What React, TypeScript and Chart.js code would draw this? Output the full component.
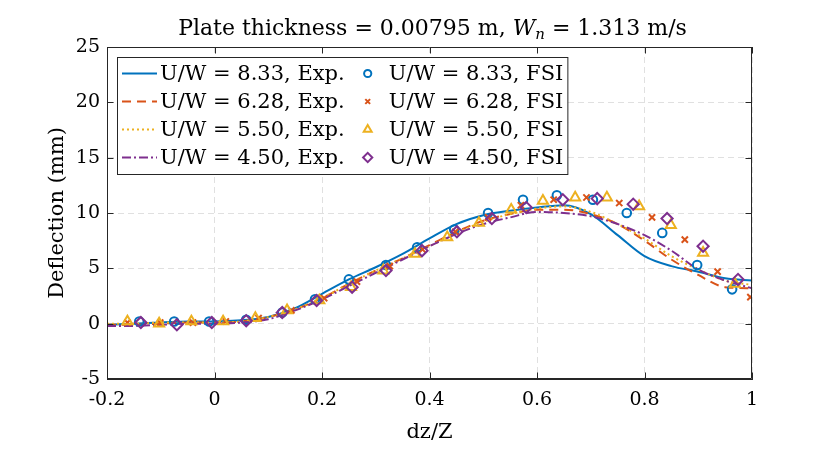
import { useEffect, useRef } from "react"
import { Chart, registerables } from "chart.js"
import { drawPoint } from "chart.js/helpers"

Chart.register(...registerables)

// measured curves (Exp.), sampled every 0.05 of dz/Z
const expX = [-0.2, -0.15, -0.1, -0.05, 0, 0.05, 0.1, 0.15, 0.2, 0.25, 0.3, 0.35, 0.4, 0.45, 0.5, 0.55, 0.6, 0.65, 0.7, 0.75, 0.8, 0.85, 0.9, 0.95, 1]
const exp833 = [-0.1, 0.0, 0.1, 0.2, 0.2, 0.3, 0.6, 1.4, 2.7, 4.0, 5.1, 6.3, 7.7, 9.0, 9.8, 10.2, 10.5, 10.7, 9.9, 8.0, 6.1, 5.2, 4.7, 4.1, 3.9]
const exp628 = [-0.1, -0.1, 0.0, 0.1, 0.1, 0.2, 0.6, 1.3, 2.3, 3.6, 4.8, 5.9, 7.1, 8.3, 9.3, 9.9, 10.3, 10.3, 9.9, 9.0, 7.5, 5.8, 4.4, 3.3, 3.2]
const exp550 = [0.0, 0.0, 0.1, 0.1, 0.1, 0.2, 0.6, 1.3, 2.3, 3.6, 4.8, 5.9, 7.0, 8.2, 9.2, 9.9, 10.4, 10.6, 10.1, 9.0, 7.7, 6.1, 4.9, 3.9, 3.5]
const exp450 = [-0.2, -0.2, -0.1, 0.0, 0.0, 0.1, 0.4, 1.2, 2.2, 3.4, 4.6, 5.8, 7.0, 8.1, 9.0, 9.6, 10.1, 10.0, 9.7, 9.0, 8.0, 6.6, 4.9, 3.9, 3.2]

// FSI results
const fsi833X = [-0.14, -0.075, -0.01, 0.059, 0.126, 0.187, 0.25, 0.319, 0.377, 0.446, 0.509, 0.574, 0.637, 0.704, 0.767, 0.833, 0.898, 0.963]
const fsi833Y = [0.2, 0.2, 0.2, 0.35, 1.0, 2.2, 4.0, 5.3, 6.9, 8.5, 10.0, 11.2, 11.6, 11.2, 10.0, 8.2, 5.3, 3.1]
const fsi628X = [-0.162, -0.101, -0.04, 0.021, 0.082, 0.143, 0.204, 0.265, 0.326, 0.387, 0.448, 0.509, 0.57, 0.631, 0.692, 0.753, 0.814, 0.875, 0.936, 0.997]
const fsi628Y = [0.1, 0.1, 0.1, 0.2, 0.5, 1.2, 2.3, 3.8, 5.2, 6.7, 8.3, 9.6, 10.7, 11.2, 11.4, 10.9, 9.6, 7.6, 4.7, 2.4]
const fsi550X = [-0.162, -0.103, -0.043, 0.016, 0.076, 0.135, 0.195, 0.254, 0.314, 0.373, 0.433, 0.492, 0.552, 0.611, 0.671, 0.73, 0.79, 0.849, 0.909, 0.968]
const fsi550Y = [0.2, 0.0, 0.2, 0.2, 0.5, 1.2, 2.1, 3.3, 4.8, 6.3, 7.8, 9.1, 10.3, 11.1, 11.4, 11.4, 10.6, 8.9, 6.4, 3.6]
const fsi450X = [-0.137, -0.07, -0.005, 0.059, 0.126, 0.19, 0.256, 0.319, 0.386, 0.451, 0.516, 0.58, 0.648, 0.712, 0.779, 0.842, 0.909, 0.974]
const fsi450Y = [0.1, -0.1, 0.1, 0.27, 1.0, 2.1, 3.3, 4.8, 6.6, 8.3, 9.5, 10.5, 11.2, 11.3, 10.8, 9.5, 7.0, 4.0]

const xTicks = [-0.2, 0, 0.2, 0.4, 0.6, 0.8, 1]
const yTicks = [-5, 0, 5, 10, 15, 20, 25]

const ratios = ["8.33", "6.28", "5.50", "4.50"]
const colors = ["#0072BD", "#D95319", "#EDB120", "#7E2F8E"]

const FONT = "'DejaVu Serif', serif"
const AXIS = "#262626"

const zip = (xs: number[], ys: number[]) => xs.map((x, i) => ({ x, y: ys[i] }))

const expSets = [
  { data: zip(expX, exp833), dash: [] as number[] },
  { data: zip(expX, exp628), dash: [9, 6] },
  { data: zip(expX, exp550), dash: [2, 3] },
  { data: zip(expX, exp450), dash: [9, 3, 2, 3] },
]

const fsiSets = [
  { data: zip(fsi833X, fsi833Y), style: "circle", radius: 4.3, legendRadius: 3.6 },
  { data: zip(fsi628X, fsi628Y), style: "crossRot", radius: 4.4, legendRadius: 3.4 },
  { data: zip(fsi550X, fsi550Y), style: "triangle", radius: 5.8, legendRadius: 4.6 },
  { data: zip(fsi450X, fsi450Y), style: "rectRot", radius: 5.6, legendRadius: 4.6 },
]

// box, inward ticks, title and two-column legend in the MATLAB look
const decorPlugin = {
  id: "decor",
  afterDraw(chart: any) {
    const { ctx, chartArea } = chart
    const { left, right, top, bottom } = chartArea
    const xs = chart.scales.x
    const ys = chart.scales.y
    ctx.save()

    // frame + ticks
    ctx.strokeStyle = AXIS
    ctx.lineWidth = 1
    ctx.setLineDash([])
    ctx.beginPath()
    ctx.rect(left + 0.5, top + 0.5, right - left - 1, bottom - top - 1)
    const tl = 6.5
    xTicks.forEach((v) => {
      const px = Math.round(xs.getPixelForValue(v)) + 0.5
      ctx.moveTo(px, bottom)
      ctx.lineTo(px, bottom - tl)
      ctx.moveTo(px, top)
      ctx.lineTo(px, top + tl)
    })
    yTicks.forEach((v) => {
      const py = Math.round(ys.getPixelForValue(v)) + 0.5
      ctx.moveTo(left, py)
      ctx.lineTo(left + tl, py)
      ctx.moveTo(right, py)
      ctx.lineTo(right - tl, py)
    })
    ctx.stroke()

    // title with italic W_n
    const parts = [
      { t: "Plate thickness = 0.00795 m, ", f: `22px ${FONT}`, dy: 0 },
      { t: "W", f: `italic 22px ${FONT}`, dy: 0 },
      { t: "n", f: `italic 15px ${FONT}`, dy: 4 },
      { t: " = 1.313 m/s", f: `22px ${FONT}`, dy: 0 },
    ]
    let total = 0
    parts.forEach((p) => {
      ctx.font = p.f
      total += ctx.measureText(p.t).width
    })
    let tx = (left + right) / 2 + 3 - total / 2
    ctx.fillStyle = "#000"
    ctx.textBaseline = "alphabetic"
    ctx.textAlign = "left"
    parts.forEach((p) => {
      ctx.font = p.f
      ctx.fillText(p.t, tx, 35 + p.dy)
      tx += ctx.measureText(p.t).width
    })

    // legend
    ctx.font = `21px ${FONT}`
    const expLabels = ratios.map((r) => `U/W = ${r}, Exp.`)
    const fsiLabels = ratios.map((r) => `U/W = ${r}, FSI`)
    const w1 = Math.max(...expLabels.map((s) => ctx.measureText(s).width))
    const w2 = Math.max(...fsiLabels.map((s) => ctx.measureText(s).width))
    const boxL = 117
    const boxT = 57
    const boxB = 174
    const lineX0 = 122
    const lineX1 = 157
    const text1X = 160
    const markX = text1X + w1 + 23
    const text2X = markX + 21
    const boxR = text2X + w2 + 4
    ctx.fillStyle = "#fff"
    ctx.fillRect(boxL, boxT, boxR - boxL, boxB - boxT)
    ctx.strokeStyle = AXIS
    ctx.lineWidth = 1
    ctx.strokeRect(boxL + 0.5, boxT + 0.5, boxR - boxL, boxB - boxT)
    ctx.textBaseline = "middle"
    ratios.forEach((_, i) => {
      const ry = 73.5 + i * 28
      ctx.strokeStyle = colors[i]
      ctx.lineWidth = 2
      ctx.setLineDash(expSets[i].dash)
      ctx.beginPath()
      ctx.moveTo(lineX0, ry)
      ctx.lineTo(lineX1, ry)
      ctx.stroke()
      ctx.setLineDash([])
      ctx.fillStyle = "rgba(0,0,0,0)"
      ctx.lineWidth = 2
      drawPoint(ctx, { pointStyle: fsiSets[i].style, radius: fsiSets[i].legendRadius, borderWidth: 2, rotation: 0 } as any, markX, ry)
      ctx.fillStyle = "#000"
      ctx.fillText(expLabels[i], text1X, ry + 1)
      ctx.fillText(fsiLabels[i], text2X, ry + 1)
    })
    ctx.restore()
  },
}

export default function App() {
  const chartRef = useRef<HTMLCanvasElement>(null)
  const chartInstance = useRef<Chart | null>(null)

  useEffect(() => {
    document.body.style.margin = "0"
    if (!chartRef.current) return
    if (chartInstance.current) chartInstance.current.destroy()
    const ctx = chartRef.current.getContext("2d")
    if (!ctx) return

    const datasets: any[] = []
    expSets.forEach((s, i) => {
      datasets.push({
        type: "line",
        label: `U/W = ${ratios[i]}, Exp.`,
        data: s.data,
        borderColor: colors[i],
        borderWidth: 2,
        borderDash: s.dash,
        pointRadius: 0,
        fill: false,
        cubicInterpolationMode: "monotone",
        order: 8 - i,
      })
    })
    fsiSets.forEach((s, i) => {
      datasets.push({
        type: "scatter",
        label: `U/W = ${ratios[i]}, FSI`,
        data: s.data,
        showLine: false,
        pointStyle: s.style,
        pointRadius: s.radius,
        pointBorderWidth: 2,
        pointBorderColor: colors[i],
        pointBackgroundColor: "rgba(0,0,0,0)",
        order: 4 - i,
      })
    })

    chartInstance.current = new Chart(ctx, {
      type: "line",
      data: { datasets },
      options: {
        responsive: false,
        animation: false,
        layout: { padding: { top: 47, right: 78, left: 0, bottom: 0 } },
        plugins: {
          legend: { display: false },
          tooltip: { enabled: false },
          title: { display: false },
        },
        scales: {
          x: {
            type: "linear",
            min: -0.2,
            max: 1,
            afterFit: (scale: any) => {
              scale.height = 78
            },
            afterBuildTicks: (scale: any) => {
              scale.ticks = xTicks.map((v) => ({ value: v }))
            },
            ticks: {
              color: "#000",
              padding: 10,
              maxRotation: 0,
              font: { family: FONT, size: 19 },
              callback: (v: any) => String(Number(Number(v).toFixed(1))),
            },
            grid: { color: "#e0e0e0", drawTicks: false, lineWidth: 1 },
            border: { display: true, color: AXIS, width: 1, dash: [6, 4] },
            title: {
              display: true,
              text: "dz/Z",
              color: "#000",
              font: { family: FONT, size: 21 },
              padding: { top: 0, bottom: 12 },
            },
          },
          y: {
            type: "linear",
            min: -5,
            max: 25,
            afterFit: (scale: any) => {
              scale.width = 107
            },
            afterBuildTicks: (scale: any) => {
              scale.ticks = yTicks.map((v) => ({ value: v }))
            },
            ticks: {
              color: "#000",
              padding: 7,
              font: { family: FONT, size: 19 },
              callback: (v: any) => String(v),
            },
            grid: { color: "#e0e0e0", drawTicks: false, lineWidth: 1 },
            border: { display: true, color: AXIS, width: 1, dash: [6, 4] },
            title: {
              display: true,
              text: "Deflection (mm)",
              color: "#000",
              font: { family: FONT, size: 21 },
              padding: { top: 45, bottom: 0 },
            },
          },
        },
      },
      plugins: [decorPlugin],
    })

    return () => {
      if (chartInstance.current) {
        chartInstance.current.destroy()
        chartInstance.current = null
      }
    }
  }, [])

  return (
    <div style={{ width: 830, height: 457, background: "#fff" }}>
      <canvas ref={chartRef} width={830} height={457}></canvas>
    </div>
  )
}
